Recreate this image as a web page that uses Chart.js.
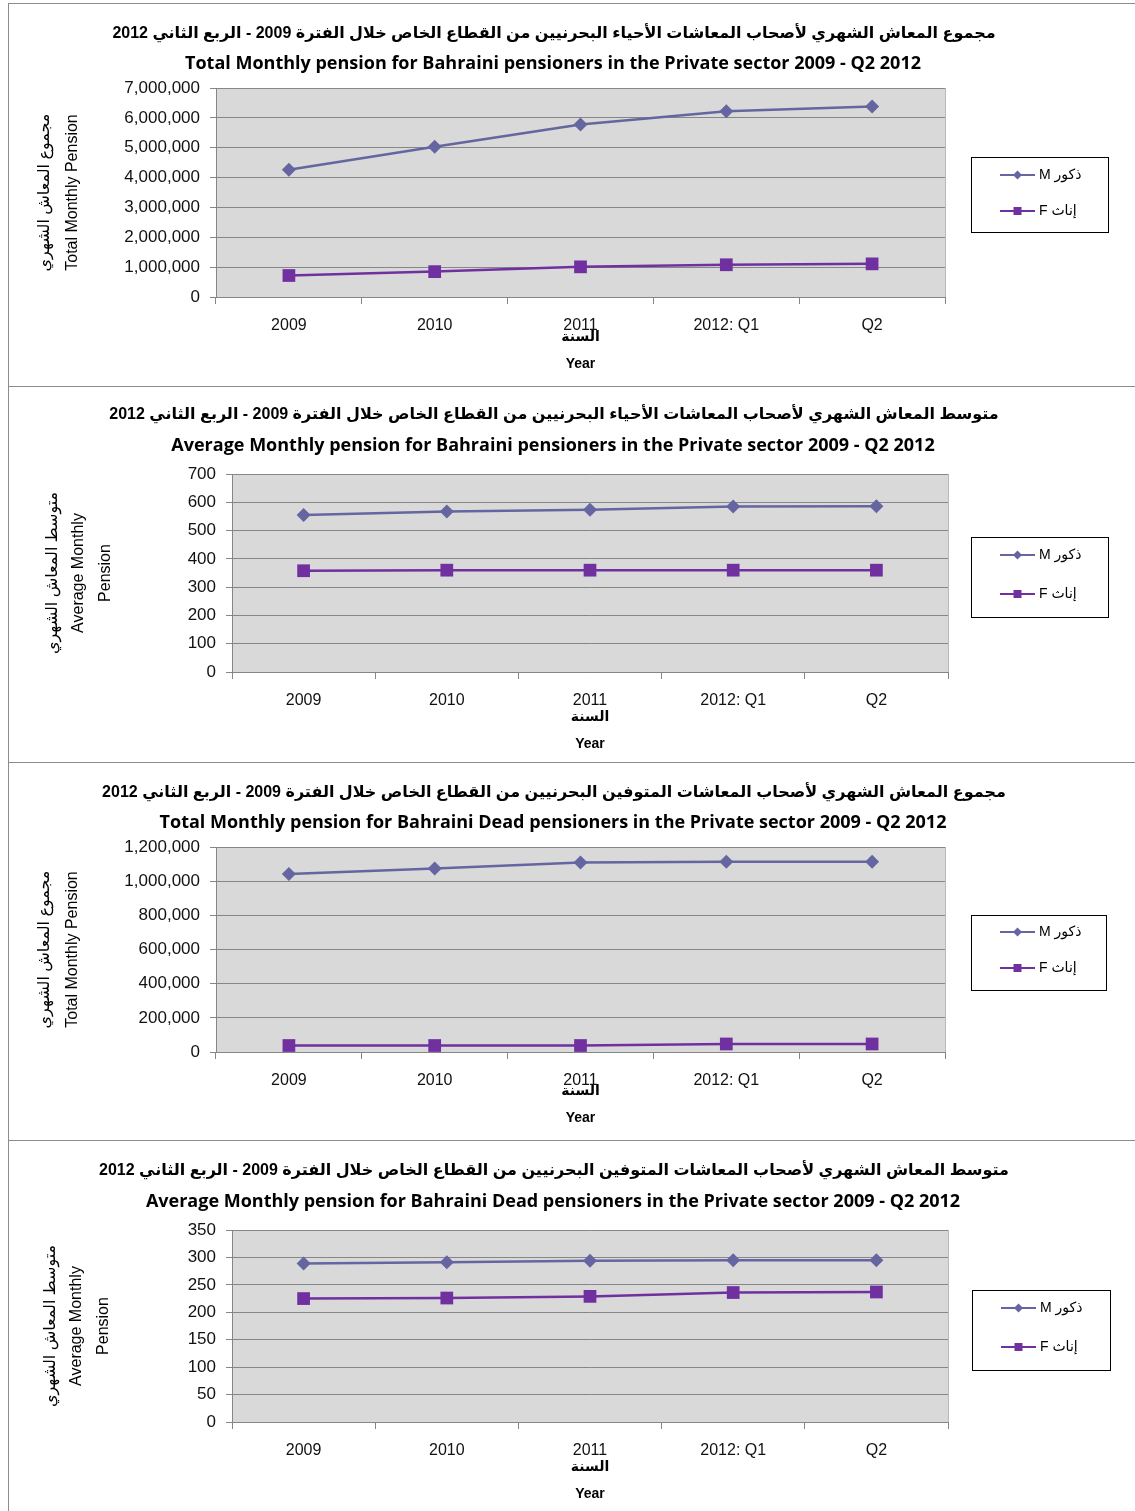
<!DOCTYPE html>
<html lang="ar">
<head>
<meta charset="UTF-8">
<title>Monthly pension - Bahraini pensioners, Private sector 2009 - Q2 2012</title>
<script src="https://cdn.jsdelivr.net/npm/chart.js"></script>
<style>
  body { margin: 0; background: #fff; }
  #page { position: relative; width: 1135px; height: 1511px; }
  .panel {
    position: absolute;
    left: 8px;
    width: 1126px;
    border-top: 1px solid #8c8c8c;
    border-left: 1px solid #8c8c8c;
  }
  .box { position: relative; width: 1102px; }
</style>
</head>
<body>
<div id="page">
  <div class="panel" style="top:3px;height:382px"><div class="box" style="height:382px"><canvas id="c1"></canvas></div></div>
  <div class="panel" style="top:386px;height:375px"><div class="box" style="height:375px"><canvas id="c2"></canvas></div></div>
  <div class="panel" style="top:762px;height:377px"><div class="box" style="height:377px"><canvas id="c3"></canvas></div></div>
  <div class="panel" style="top:1140px;height:370px"><div class="box" style="height:370px"><canvas id="c4"></canvas></div></div>
</div>

<script>
// data
const categories = ['2009', '2010', '2011', '2012: Q1', 'Q2'];
const seriesLabels = ['M ذكور', 'F إناث'];

const aliveTotalM = [4260000, 5030000, 5780000, 6220000, 6380000];
const aliveTotalF = [720000, 850000, 1010000, 1080000, 1110000];
const aliveAvgM = [555, 567, 574, 585, 586];
const aliveAvgF = [358, 360, 360, 360, 360];
const deadTotalM = [1042000, 1074000, 1109000, 1114000, 1114000];
const deadTotalF = [38000, 38000, 38000, 47000, 47000];
const deadAvgM = [289, 291, 294, 295, 295];
const deadAvgF = [225, 226, 229, 236, 237];

const yMax = [7000000, 700, 1200000, 350];
const yStep = [1000000, 100, 200000, 50];

const arTitles = [
  'مجموع المعاش الشهري لأصحاب المعاشات الأحياء البحرنيين من القطاع الخاص خلال الفترة 2009 - الربع الثاني 2012',
  'متوسط المعاش الشهري لأصحاب المعاشات الأحياء البحرنيين من القطاع الخاص خلال الفترة 2009 - الربع الثاني 2012',
  'مجموع المعاش الشهري لأصحاب المعاشات المتوفين البحرنيين من القطاع الخاص خلال الفترة 2009 - الربع الثاني 2012',
  'متوسط المعاش الشهري لأصحاب المعاشات المتوفين البحرنيين من القطاع الخاص خلال الفترة 2009 - الربع الثاني 2012'
];
const enTitles = [
  'Total Monthly pension for Bahraini pensioners in the Private sector 2009 - Q2 2012',
  'Average Monthly pension for Bahraini pensioners in the Private sector 2009 - Q2 2012',
  'Total Monthly pension for Bahraini Dead pensioners in the Private sector 2009 - Q2 2012',
  'Average Monthly pension for Bahraini Dead pensioners in the Private sector 2009 - Q2 2012'
];
const yTitleTotal = ['مجموع المعاش الشهري', 'Total Monthly Pension'];
const yTitleAvg = ['متوسط المعاش الشهري', 'Average Monthly', 'Pension'];
const xTitle = ['السنة', 'Year'];

const grey = '#868686';
const mColor = '#6565a1';
const fColor = '#7030a0';
const W = 1102;

// positions inside each canvas (px)
const panels = [
  { id: 'c1', m: aliveTotalM, f: aliveTotalF, yTitle: yTitleTotal, H: 382,
    left: 207, right: 936, top: 84, bottom: 293, yPad: 22, yLh: 28, xPad: 8,
    arY: 30, enY: 60, lg: { x: 962, y: 153, w: 137, h: 75, r1: 171, r2: 207 } },
  { id: 'c2', m: aliveAvgM, f: aliveAvgF, yTitle: yTitleAvg, H: 375,
    left: 223, right: 939, top: 87, bottom: 285, yPad: 30, yLh: 26.5, xPad: 4,
    arY: 28, enY: 59, lg: { x: 962, y: 150, w: 137, h: 80, r1: 168, r2: 207 } },
  { id: 'c3', m: deadTotalM, f: deadTotalF, yTitle: yTitleTotal, H: 377,
    left: 207, right: 936, top: 84, bottom: 289, yPad: 22, yLh: 28, xPad: 8,
    arY: 30, enY: 60, lg: { x: 962, y: 152, w: 135, h: 75, r1: 169, r2: 205 } },
  { id: 'c4', m: deadAvgM, f: deadAvgF, yTitle: yTitleAvg, H: 370,
    left: 223, right: 939, top: 89, bottom: 281, yPad: 28, yLh: 26.5, xPad: 3,
    arY: 30, enY: 61, lg: { x: 963, y: 149, w: 138, h: 80, r1: 167, r2: 206 } }
];

const plotBg = {
  id: 'plotBg',
  beforeDraw(chart) {
    const { ctx, chartArea: a } = chart;
    ctx.save();
    ctx.fillStyle = '#d9d9d9';
    ctx.fillRect(a.left, a.top, a.right - a.left, a.bottom - a.top);
    ctx.strokeStyle = '#b8b8b8';
    ctx.lineWidth = 1;
    ctx.beginPath();
    ctx.moveTo(a.right + 0.5, a.top);
    ctx.lineTo(a.right + 0.5, a.bottom);
    ctx.stroke();
    ctx.restore();
  }
};

function drawMarker(ctx, style, x, y, r) {
  ctx.beginPath();
  if (style === 'rectRot') {
    ctx.moveTo(x, y - r); ctx.lineTo(x + r, y); ctx.lineTo(x, y + r); ctx.lineTo(x - r, y);
  } else {
    ctx.rect(x - r, y - r, 2 * r, 2 * r);
  }
  ctx.closePath();
  ctx.fill();
}

function headerPlugin(i, p) {
  return {
    id: 'header' + i,
    afterDraw(chart) {
      const ctx = chart.ctx;
      ctx.save();
      ctx.fillStyle = '#000';
      ctx.textAlign = 'center';
      ctx.textBaseline = 'middle';
      ctx.direction = 'rtl';
      ctx.font = 'bold 16px "Liberation Sans", "DejaVu Sans", sans-serif';
      ctx.fillText(arTitles[i], 545, p.arY);
      ctx.direction = 'ltr';
      ctx.font = 'bold 18px "Open Sans", Lato, sans-serif';
      ctx.fillText(enTitles[i], 544, p.enY);

      // legend box
      const lg = p.lg;
      ctx.strokeStyle = '#000';
      ctx.lineWidth = 1;
      ctx.strokeRect(lg.x + 0.5, lg.y + 0.5, lg.w, lg.h);
      const rows = [lg.r1, lg.r2];
      chart.data.datasets.forEach((ds, k) => {
        const y = rows[k];
        const x0 = lg.x + 29, x1 = lg.x + 64;
        ctx.strokeStyle = ds.borderColor;
        ctx.lineWidth = 2;
        ctx.beginPath();
        ctx.moveTo(x0, y);
        ctx.lineTo(x1, y);
        ctx.stroke();
        ctx.fillStyle = ds.backgroundColor;
        drawMarker(ctx, ds.pointStyle, (x0 + x1) / 2, y, ds.pointStyle === 'rect' ? 4 : 4.5);
        ctx.fillStyle = '#000';
        ctx.textAlign = 'left';
        ctx.font = '14px "Liberation Sans", "DejaVu Sans", sans-serif';
        ctx.fillText(ds.label, x1 + 4, y);
      });
      ctx.restore();
    }
  };
}

panels.forEach((p, i) => {
  new Chart(document.getElementById(p.id), {
    type: 'line',
    data: {
      labels: categories,
      datasets: [
        { label: seriesLabels[0], data: p.m, borderColor: mColor, backgroundColor: mColor,
          borderWidth: 2.5, pointStyle: 'rectRot', pointRadius: 7, pointBorderWidth: 0, tension: 0 },
        { label: seriesLabels[1], data: p.f, borderColor: fColor, backgroundColor: fColor,
          borderWidth: 2.5, pointStyle: 'rect', pointRadius: 9, pointBorderWidth: 0, tension: 0 }
      ]
    },
    options: {
      responsive: true,
      maintainAspectRatio: false,
      animation: false,
      layout: { padding: { left: 0, top: p.top, right: W - p.right, bottom: 0 } },
      plugins: { legend: { display: false }, title: { display: false }, tooltip: { enabled: false } },
      scales: {
        x: {
          offset: true,
          afterFit(s) { s.height = p.H - p.bottom; },
          grid: { offset: true, drawOnChartArea: false, color: grey, tickLength: 7 },
          border: { color: grey },
          ticks: { color: '#111', padding: 12, font: { family: '"Liberation Sans Narrow", "Liberation Sans", Arial', size: 16 } },
          title: { display: true, text: xTitle, color: '#000', padding: { top: 0, bottom: p.xPad },
            font: { family: '"Liberation Sans", "DejaVu Sans", sans-serif', size: 14, weight: 'bold', lineHeight: 27 / 14 } }
        },
        y: {
          min: 0,
          max: yMax[i],
          afterFit(s) { s.width = p.left; },
          grid: { color: grey, tickLength: 6 },
          border: { color: grey },
          ticks: { stepSize: yStep[i], color: '#111', padding: 10,
            font: { family: '"Liberation Sans", Arial', size: 17 },
            callback: v => v.toLocaleString('en-US') },
          title: { display: true, text: p.yTitle, color: '#000', padding: { top: p.yPad, bottom: 0 },
            font: { family: '"Liberation Sans", "DejaVu Sans", sans-serif', size: 16, lineHeight: p.yLh / 16 } }
        }
      }
    },
    plugins: [plotBg, headerPlugin(i, p)]
  });
});
</script>
</body>
</html>
